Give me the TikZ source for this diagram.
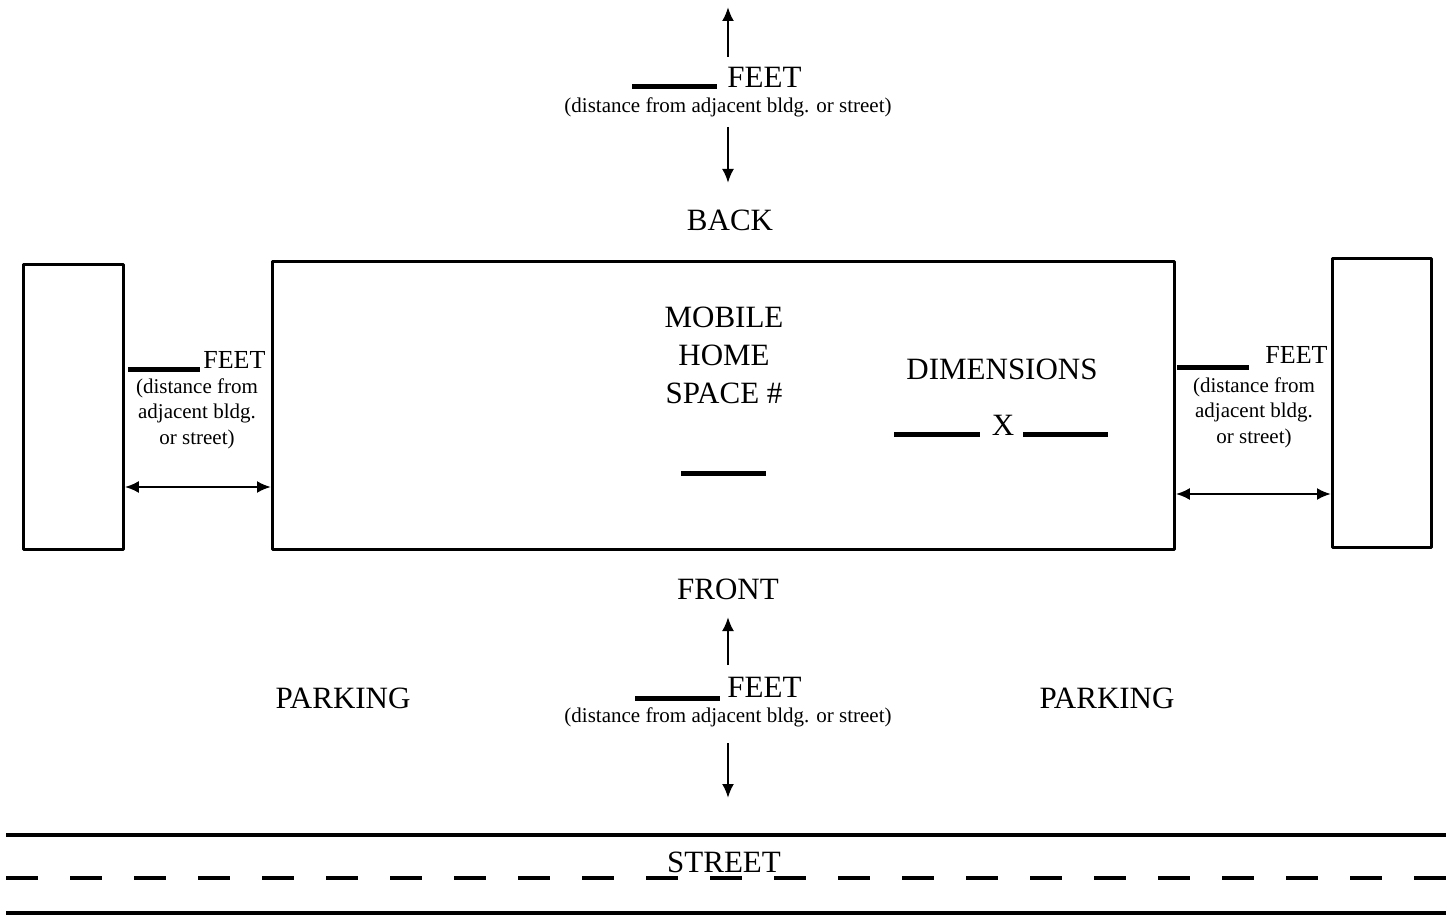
\documentclass[tikz,border=0pt]{standalone}
\usepackage{fontspec}
\setmainfont{Liberation Serif}
\usetikzlibrary{arrows.meta}
\tikzset{
	big/.style={font=\fontsize{15.5}{19}\selectfont, inner sep=0pt},
	mid/.style={font=\fontsize{13}{16}\selectfont, inner sep=0pt},
	small/.style={font=\fontsize{10.5}{12.6}\selectfont, inner sep=0pt, align=center},
	blank/.style={line width=2.5pt},
	bldg/.style={draw, line width=1.4pt, inner sep=0pt, anchor=north west},
	street/.style={line width=1.6pt},
	arr/.style={line width=1.2pt}
}
\begin{document}
\begin{tikzpicture}[x=0.5pt, y=-0.5pt, line join=round, >={Latex[length=7pt,width=6pt]}]
	\useasboundingbox (0,0) rectangle (1452,915);
	% buildings and the home
	\node[bldg, minimum width=50pt, minimum height=142.5pt] (lbldg) at (22,263) {};
	\node[bldg, minimum width=451pt, minimum height=144pt] (home) at (271,260) {};
	\node[bldg, minimum width=49.5pt, minimum height=144.5pt] (rbldg) at (1331,257) {};
	% back
	\node[big, anchor=base west] (tfeet) at (727,88) {FEET};
	\node[small, anchor=base] (tnote) at (728,113) {(distance from adjacent bldg. or street)};
	\node[big, anchor=base] (back) at (730,230) {BACK};
	\coordinate (tup0) at (728,57);
	\coordinate (tup1) at (728,7);
	\coordinate (tdn0) at (728,127);
	\coordinate (tdn1) at (728,183);
	\draw[blank] (632,87) -- (717,87);
	\draw[arr,->] (tup0) -- (tup1);
	\draw[arr,->] (tdn0) -- (tdn1);
	% left side
	\node[mid, anchor=base west] (lfeet) at (203,368) {FEET};
	\node[small, anchor=base] (lnote) at (197,444) {(distance from\\adjacent bldg.\\or street)};
	\draw[blank] (128,369) -- (200,369);
	\draw[arr,<->] (lbldg.east |- 0,487) -- (home.west |- 0,487);
	% right side
	\node[mid, anchor=base west] (rfeet) at (1265,363) {FEET};
	\node[small, anchor=base] (rnote) at (1254,443) {(distance from\\adjacent bldg.\\or street)};
	\draw[blank] (1177,367) -- (1249,367);
	\draw[arr,<->] (home.east |- 0,494) -- (rbldg.west |- 0,494);
	% inside the home
	\node[big, anchor=base, align=center] (space) at (724,403) {MOBILE\\HOME\\SPACE \#};
	\draw[blank] (681,473) -- (766,473);
	\node[big, anchor=base] (dims) at (1002,379) {DIMENSIONS};
	\node[big, anchor=base] (times) at (1003,435) {X};
	\draw[blank] (894,434) -- (980,434);
	\draw[blank] (1023,434) -- (1108,434);
	% front
	\node[big, anchor=base] (front) at (728,599) {FRONT};
	\node[big, anchor=base west] (bfeet) at (727,697) {FEET};
	\node[small, anchor=base] (bnote) at (728,722) {(distance from adjacent bldg. or street)};
	\coordinate (bup0) at (728,665);
	\coordinate (bup1) at (728,617);
	\coordinate (bdn0) at (728,743);
	\coordinate (bdn1) at (728,798);
	\draw[blank] (635,698) -- (720,698);
	\draw[arr,->] (bup0) -- (bup1);
	\draw[arr,->] (bdn0) -- (bdn1);
	\node[big, anchor=base] (lpark) at (343,708) {PARKING};
	\node[big, anchor=base] (rpark) at (1107,708) {PARKING};
	% street
	\draw[street] (6,835) -- (1446,835);
	\draw[street, dash pattern=on 16pt off 16pt] (6,878) -- (1446,878);
	\draw[street] (6,913) -- (1446,913);
	\node[big, anchor=base] (street) at (724,872) {STREET};
\end{tikzpicture}
\end{document}
